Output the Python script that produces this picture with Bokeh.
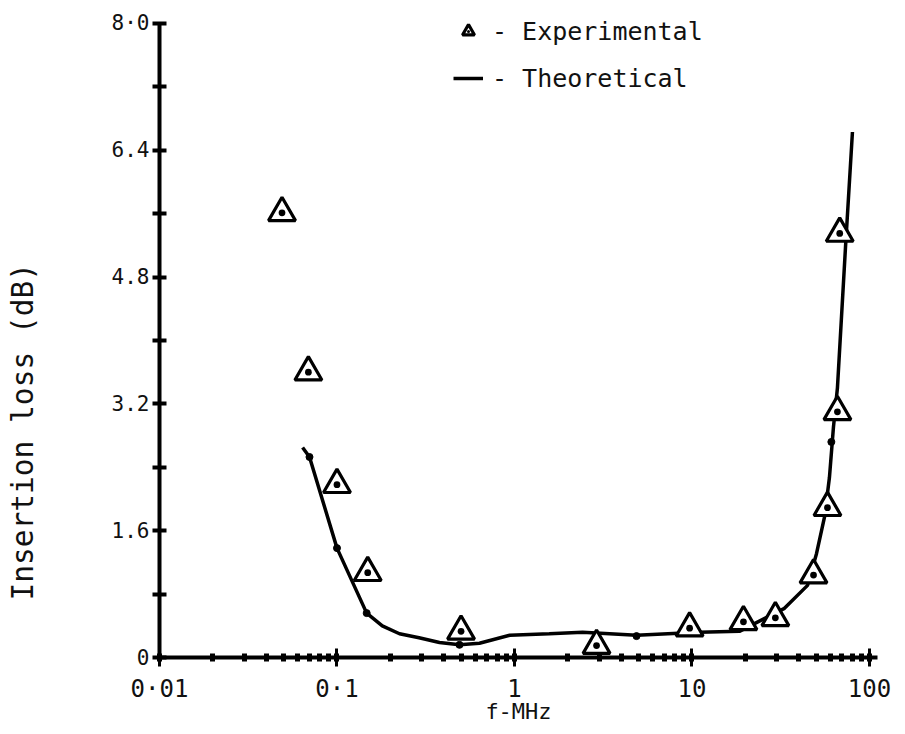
from bokeh.plotting import figure
from bokeh.models import Range1d, FixedTicker, LogTicker, Legend, LegendItem, Title
from bokeh.embed import file_html
from bokeh.resources import INLINE

# ---- data ----
exp_f = [0.049, 0.069, 0.1, 0.149, 0.5, 2.9, 9.7, 19.5, 29.5, 48.4, 58, 66, 68]
exp_loss = [5.61, 3.60, 2.18, 1.07, 0.33, 0.15, 0.37, 0.45, 0.50, 1.04, 1.89, 3.10, 5.35]

theo_f = [0.064, 0.070, 0.1, 0.147, 0.18, 0.225, 0.29, 0.378, 0.49, 0.635, 0.94,
          1.57, 2.42, 4.87, 11.0, 18.5, 33.2, 44.8, 50.3, 55.8, 59.5, 62.7, 66.0, 73.3, 80.2]
theo_loss = [2.65, 2.53, 1.38, 0.56, 0.40, 0.30, 0.25, 0.19, 0.16, 0.18, 0.28,
             0.30, 0.32, 0.28, 0.32, 0.33, 0.62, 0.91, 1.31, 1.77, 2.27, 2.91, 3.40, 5.18, 6.63]

theo_dot_f = [0.07, 0.1, 0.147, 0.49, 4.87, 61]
theo_dot_loss = [2.53, 1.38, 0.56, 0.16, 0.27, 2.72]

y_ticks = [0, 1.6, 3.2, 4.8, 6.4, 8.0]
y_minor_ticks = [0.8, 2.4, 4.0, 5.6, 7.2]
y_tick_labels = ["0", "1.6", "3.2", "4.8", "6.4", "8·0"]
x_ticks = [0.01, 0.1, 1, 10, 100]
x_tick_labels = ["0·01", "0·1", "1", "10", "100"]

FONT = "DejaVu Sans Mono"
INK = "#111111"

p = figure(width=895, height=732, x_axis_type="log",
           x_range=Range1d(0.01, 111), y_range=Range1d(0, 8.1),
           output_backend="svg", toolbar_location=None,
           min_border_left=159, min_border_right=18,
           min_border_top=15, min_border_bottom=75)

p.xgrid.visible = False
p.ygrid.visible = False
p.outline_line_color = None
p.background_fill_color = "white"

# theoretical curve
line_r = p.line(theo_f, theo_loss, line_color="black", line_width=3.5)
p.scatter(theo_dot_f, theo_dot_loss, size=7, color="black")

# experimental points
tri_r = p.scatter(exp_f, exp_loss, marker="triangle_dot", size=27,
                  line_color="black", line_width=3.2, fill_color="white")

# x axis
xa = p.xaxis[0]
xa.ticker = LogTicker(num_minor_ticks=10)
xa.major_label_overrides = {t: l for t, l in zip(x_ticks, x_tick_labels)}
xa.axis_line_width = 4
xa.major_tick_in = 9
xa.major_tick_out = 9
xa.major_tick_line_width = 3
xa.minor_tick_in = 4
xa.minor_tick_out = 4
xa.minor_tick_line_width = 5
xa.major_label_text_font = FONT
xa.major_label_text_font_size = "24px"
xa.major_label_text_color = INK
xa.major_label_standoff = 8
xa.axis_label = "f-MHz"
xa.axis_label_text_font = FONT
xa.axis_label_text_font_size = "22px"
xa.axis_label_text_font_style = "normal"
xa.axis_label_text_color = INK
xa.axis_label_standoff = -7

# y axis (line stops at the 8.0 tick)
ya = p.yaxis[0]
ya.bounds = (0, 8.0)
ya.ticker = FixedTicker(ticks=y_ticks, minor_ticks=y_minor_ticks)
ya.major_label_overrides = {t: l for t, l in zip(y_ticks, y_tick_labels)}
ya.axis_line_width = 4
ya.major_tick_in = 7
ya.major_tick_out = 7
ya.major_tick_line_width = 4
ya.minor_tick_in = 7
ya.minor_tick_out = 7
ya.minor_tick_line_width = 4
ya.major_label_text_font = FONT
ya.major_label_text_font_size = "21px"
ya.major_label_text_color = INK
ya.major_label_standoff = 3
# blank axis label only reserves room so the title below sits far left
ya.axis_label = " "
ya.axis_label_text_font_size = "22px"
ya.axis_label_standoff = 41

# y-axis title (placed lower than centre, as in the reference)
ytitle = Title(text="Insertion loss (dB)", align="left", offset=57,
               standoff=0, text_font=FONT, text_font_size="29.5px",
               text_font_style="normal", text_color=INK)
p.add_layout(ytitle, "left")

legend = Legend(items=[LegendItem(label="- Experimental", renderers=[tri_r]),
                       LegendItem(label="- Theoretical", renderers=[line_r])],
                location=(294, 564), orientation="vertical",
                label_text_font=FONT, label_text_font_size="25px",
                label_text_color=INK,
                glyph_width=30, glyph_height=30, label_height=30,
                label_standoff=9, spacing=17, padding=0, margin=0,
                border_line_alpha=0, background_fill_alpha=0)
p.add_layout(legend, "center")

open("out.html", "w").write(file_html(p, INLINE))
